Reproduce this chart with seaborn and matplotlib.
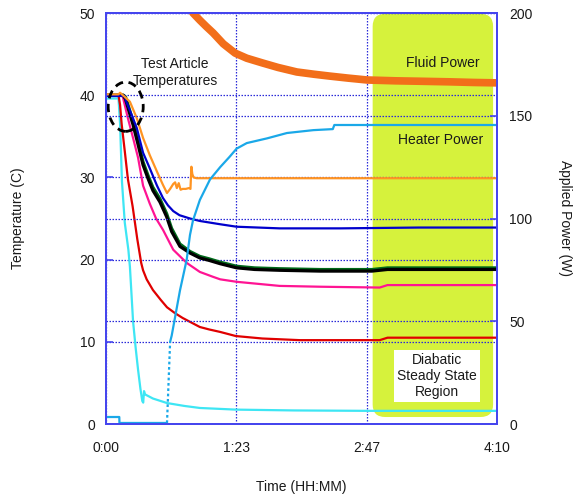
import matplotlib
matplotlib.use("Agg")
import matplotlib.pyplot as plt
from matplotlib.patches import FancyBboxPatch, Ellipse
import seaborn as sns

# ---- data (time in minutes, temperatures in C, power in W) ----
time_ticks = [0, 250 / 3, 500 / 3, 250]
time_labels = ["0:00", "1:23", "2:47", "4:10"]
temp_ticks = [0, 10, 20, 30, 40, 50]
power_ticks = [0, 50, 100, 150, 200]

orange_t = [0, 8, 9, 12, 15.3, 19.7, 23.7, 28, 32.6, 36.4, 39, 41, 43, 44.2, 45.3,
            46.5, 47.7, 49, 51, 53, 54, 54.6, 55.2, 56, 58, 80, 120, 167, 200, 250]
orange_T = [40.1, 40.1, 40.3, 39.8, 39.2, 37.2, 34.8, 32.7, 30.7, 29.1, 28.1, 28.6, 29.2, 29.4, 28.7,
            29.3, 28.5, 28.6, 28.6, 28.7, 28.6, 31.3, 30.4, 30.0, 29.9, 29.9, 29.9, 29.9, 29.9, 29.9]

blue_t = [0, 12, 13, 16, 19.7, 23.7, 28, 32.6, 36.4, 39.6, 43, 47, 53.7, 60, 73, 83.5, 111, 150, 200, 250]
blue_T = [39.9, 39.9, 39.2, 37.8, 36.0, 33.0, 31.1, 29.0, 27.5, 26.6, 25.9, 25.4, 25.0, 24.7, 24.3,
          24.0, 23.8, 23.8, 23.9, 23.9]

black_t = [0, 11, 12.5, 14, 17.3, 20.5, 23.7, 27, 30, 34.5, 38.8, 42, 47.3, 53.7, 60, 66, 73,
           83.5, 95, 111, 137, 170, 180, 250]
black_T = [40, 40, 39.5, 38.5, 36.4, 34.0, 31.5, 29.8, 28.4, 27.0, 25.2, 23.4, 21.6, 20.8, 20.2, 19.9, 19.5,
           19.0, 18.8, 18.7, 18.6, 18.6, 18.8, 18.8]
green_T = [40, 40, 39.8, 38.9, 36.8, 34.4, 31.9, 30.2, 28.8, 27.4, 25.6, 23.8, 21.9, 21.0, 20.4, 20.1, 19.7,
           19.2, 19.0, 18.9, 18.8, 18.8, 19.0, 19.0]

pink_t = [0, 10.5, 12, 14, 17.3, 20.5, 23.7, 28, 32, 36.5, 43, 51.6, 60, 68.5, 73, 83.5, 111, 137, 175, 180, 250]
pink_T = [40, 40, 38.8, 37.2, 34.8, 32.4, 29.0, 26.8, 25.0, 23.6, 21.2, 19.6, 18.5, 17.9, 17.6, 17.3, 16.8,
          16.7, 16.6, 16.9, 16.9]

red_t = [0, 8, 9, 10, 12, 14, 17, 20, 22.5, 23.7, 26, 30, 35, 39, 44, 49, 55, 60, 66, 73, 83, 100, 124,
         175, 180, 250]
red_T = [40, 40, 38.8, 36.5, 33.2, 29.8, 26.5, 22.5, 19.6, 18.7, 17.6, 16.3, 15.1, 14.2, 13.5, 12.9, 12.3,
         11.8, 11.5, 11.2, 10.7, 10.4, 10.2, 10.2, 10.5, 10.5]

cyan_t = [0, 8, 9, 10.2, 12, 14.3, 15.3, 17.3, 19, 20.5, 22, 23.2, 23.8, 24.3, 25, 26, 30, 39, 50, 60,
          83, 120, 167, 250]
cyan_T = [39.6, 39.6, 36.5, 29.5, 24.5, 21.2, 19.1, 12.5, 9.2, 6.6, 4.3, 2.8, 2.6, 4.0, 3.6, 3.5, 3.1,
          2.55, 2.2, 1.95, 1.75, 1.65, 1.6, 1.6]

heater_t = [0, 8.5, 8.6, 39, 41, 42, 47.3, 51.6, 53.7, 55.6, 60, 66.5, 73, 79, 83.5, 90, 103, 115.7,
            132.6, 145, 146, 250]
heater_W = [3.4, 3.4, 0.5, 0.5, 40, 43, 65, 80, 92, 99, 109, 119, 125, 130, 134, 136.7, 139, 141.6,
            143, 143.5, 145.5, 145.5]

fluid_t = [54, 55.6, 60, 64, 68.5, 75, 82.5, 90, 100, 110, 122, 133, 143, 155, 167, 185, 200, 220, 235, 250]
fluid_W = [202, 200, 196.5, 193.5, 190.3, 185, 180.5, 178, 175.7, 173.5, 171.3, 170.2, 169.3, 168.3,
           167.4, 167, 166.8, 166.5, 166.2, 166]

# steady-state window (minutes, C)
steady_start, steady_end = 170.5, 247.5
steady_low, steady_high = 0.85, 49.9

# ---- styling ----
sns.set_theme(style="white")
plt.rcParams["font.family"] = ["Liberation Sans", "DejaVu Sans"]
plt.rcParams["font.size"] = 10

spine_blue = "#4646ee"
grid_blue = "#2a2ad8"
text_col = "#1a1a1a"

fig = plt.figure(figsize=(5.76, 4.97), dpi=100)
ax = fig.add_axes([106 / 576, 1 - 424 / 497, 391 / 576, 411 / 497])
ax2 = ax.twinx()

# steady-state highlight
region = FancyBboxPatch((steady_start, steady_low), steady_end - steady_start, steady_high - steady_low,
                        boxstyle="round,pad=0,rounding_size=8", mutation_aspect=0.19,
                        facecolor="#d6f23c", edgecolor="none", zorder=0.2)
ax.add_patch(region)

# temperature traces
temp_series = [
    (cyan_t, cyan_T, "#3ee6f4", 1.6),
    (red_t, red_T, "#e00000", 1.6),
    (pink_t, pink_T, "#ff1493", 1.6),
    (black_t, green_T, "#006a1a", 2.2),
    (black_t, black_T, "#000000", 2.3),
    (blue_t, blue_T, "#0000cc", 1.6),
    (orange_t, orange_T, "#ff9422", 1.6),
]
for t, v, c, lw in temp_series:
    sns.lineplot(x=t, y=v, ax=ax, color=c, linewidth=lw, estimator=None, sort=False, zorder=3)

# power traces on the right axis
sns.lineplot(x=heater_t[:4], y=heater_W[:4], ax=ax2, color="#1aa8e8", linewidth=1.6,
             estimator=None, sort=False)
sns.lineplot(x=heater_t[3:5], y=heater_W[3:5], ax=ax2, color="#1aa8e8", linewidth=1.6,
             linestyle=(0, (1.2, 1.2)), estimator=None, sort=False)
sns.lineplot(x=heater_t[4:], y=heater_W[4:], ax=ax2, color="#1aa8e8", linewidth=1.6,
             estimator=None, sort=False)
sns.lineplot(x=fluid_t, y=fluid_W, ax=ax2, color="#f26e1a", linewidth=5.5,
             estimator=None, sort=False)

# axes limits / ticks
ax.set_xlim(time_ticks[0], time_ticks[-1])
ax.set_ylim(temp_ticks[0], temp_ticks[-1])
ax2.set_ylim(power_ticks[0], power_ticks[-1])
ax.set_xticks(time_ticks)
ax.set_xticklabels(time_labels)
ax.set_yticks(temp_ticks)
ax2.set_yticks(power_ticks)

ax.set_axisbelow(True)
ax.grid(True, color=grid_blue, linestyle=(0, (1.2, 1.2)), linewidth=0.9)
ax2.grid(True, axis="y", color=grid_blue, linestyle=(0, (1.2, 1.2)), linewidth=0.9)
ax2.grid(False, axis="x")

for a in (ax, ax2):
    for s in a.spines.values():
        s.set_color(spine_blue)
        s.set_linewidth(1.4)
    a.tick_params(direction="in", color=spine_blue, length=5, width=1.2,
                  labelcolor=text_col, labelsize=10)
ax.tick_params(axis="x", pad=12)
ax.tick_params(axis="y", pad=8)
ax2.tick_params(axis="y", pad=9)

ax.set_xlabel("Time (HH:MM)", color=text_col, fontsize=10)
ax.set_ylabel("Temperature (C)", color=text_col, fontsize=10)
ax2.set_ylabel("Applied Power (W)", color=text_col, fontsize=10, rotation=270)
ax.xaxis.set_label_coords(0.5, -0.153)
ax.yaxis.set_label_coords(-0.225, 0.5)
ax2.yaxis.set_label_coords(1.174, 0.5)
ax.xaxis.label.set_va("center")
ax.yaxis.label.set_va("center")
ax2.yaxis.label.set_va("center")

# annotations
ax.text(44.1, 42.8, "Test Article\nTemperatures", ha="center", va="center", fontsize=10,
        color=text_col, linespacing=1.25, zorder=5)
ax.add_patch(Ellipse((12.6, 38.6), 22.4, 6.0, fill=False, edgecolor="black", linewidth=2,
                     linestyle=(0, (3, 2)), zorder=4))
ax.text(215.5, 43.9, "Fluid Power", ha="center", va="center", fontsize=10, color=text_col, zorder=5)
ax.text(213.9, 34.5, "Heater Power", ha="center", va="center", fontsize=10, color=text_col, zorder=5)
ax.text(211.6, 5.85, "Diabatic\nSteady State\nRegion", ha="center", va="center", fontsize=10,
        color=text_col, linespacing=1.2, zorder=5,
        bbox=dict(boxstyle="square,pad=0.2", facecolor="white", edgecolor="none"))

fig.savefig("out.png", dpi=100)
